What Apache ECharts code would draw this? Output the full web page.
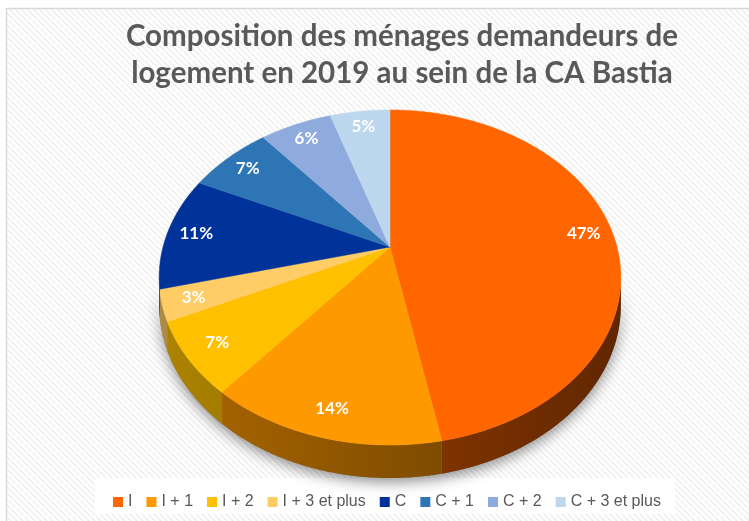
<!DOCTYPE html>
<html>
<head>
<meta charset="utf-8">
<script src="https://cdn.jsdelivr.net/npm/echarts@6/dist/echarts.min.js"></script>
<style>
  html, body { margin: 0; padding: 0; background: #fff; }
  #chart { width: 749px; height: 521px; }
</style>
</head>
<body>
<div id="chart"></div>
<script>
// données du graphique
const categories = ['I', 'I + 1', 'I + 2', 'I + 3 et plus', 'C', 'C + 1', 'C + 2', 'C + 3 et plus'];
const shares = [47, 14, 7, 3, 11, 7, 6, 5];
const colors = ['#FF6600', '#FF9900', '#FFC000', '#FFCC66', '#003399', '#2E75B6', '#8FAADC', '#BDD7EE'];
const titleLines = ['Composition des ménages demandeurs de', 'logement en 2019 au sein de la CA Bastia'];

// vue 3D simulée (ellipse en perspective)
const CX = 390, CY = 247;
const RX = 227, RY = 162, PERSP = 0.182, DEPTH = 27;
const LABEL_R = 0.87;
const total = shares.reduce((a, b) => a + b, 0);
// secteur visible de la tranche (face avant)
const FRONT_MIN = Math.acos(-PERSP), FRONT_MAX = 2 * Math.PI - Math.acos(-PERSP);

const project = (phi, r, drop) => {
  const u = Math.sin(phi) * r, v = -Math.cos(phi) * r;
  const k = 1 / (1 - PERSP * v);
  return [CX + RX * u * k, CY + RY * v * k + drop * k];
};

const arc = (a0, a1, r, drop) => {
  const pts = [];
  const n = Math.max(2, Math.ceil((a1 - a0) / 0.01));
  for (let j = 0; j <= n; j++) pts.push(project(a0 + (a1 - a0) * j / n, r, drop));
  return pts;
};

const shade = (hex, f) => {
  const n = parseInt(hex.slice(1), 16);
  const c = [(n >> 16) & 255, (n >> 8) & 255, n & 255].map((x) => Math.round(x * f));
  return 'rgb(' + c.join(',') + ')';
};

const angles = (i) => {
  let before = 0;
  for (let j = 0; j < i; j++) before += shares[j];
  return [2 * Math.PI * before / total, 2 * Math.PI * (before + shares[i]) / total];
};

const wallPoints = (a0, a1) => {
  const s = Math.max(a0, FRONT_MIN), e = Math.min(a1, FRONT_MAX);
  if (e <= s) return null;
  return arc(s, e, 1, 0).concat(arc(s, e, 1, DEPTH).reverse());
};

// motif de fond rayé
const stripe = document.createElement('canvas');
stripe.width = 6; stripe.height = 6;
const sctx = stripe.getContext('2d');
sctx.fillStyle = '#ffffff';
sctx.fillRect(0, 0, 6, 6);
sctx.strokeStyle = '#f0f0f0';
sctx.lineWidth = 1.6;
sctx.beginPath();
sctx.moveTo(-1, -1); sctx.lineTo(7, 7);
sctx.moveTo(-4, 2); sctx.lineTo(4, 10);
sctx.moveTo(2, -4); sctx.lineTo(10, 4);
sctx.stroke();

const sliceSeries = categories.map((name, i) => ({
  name: name,
  type: 'custom',
  coordinateSystem: 'none',
  silent: true,
  itemStyle: { color: colors[i] },
  data: [shares[i]],
  renderItem: (params, api) => {
    const [a0, a1] = angles(i);
    const children = [];
    const wall = wallPoints(a0, a1);
    if (wall) {
      children.push({
        type: 'polygon',
        shape: { points: wall },
        style: {
          fill: {
            type: 'linear', global: true,
            x: CX - RX, y: 0, x2: CX + RX, y2: 0,
            colorStops: [
              { offset: 0, color: shade(colors[i], 0.68) },
              { offset: 1, color: shade(colors[i], 0.38) },
            ],
          },
          stroke: null,
        },
      });
    }
    children.push({
      type: 'polygon',
      shape: { points: [[CX, CY]].concat(arc(a0, a1, 1, 0)) },
      style: { fill: colors[i], stroke: colors[i], lineWidth: 0.5 },
    });
    const mid = (a0 + a1) / 2;
    const p = project(mid, LABEL_R, 0);
    children.push({
      type: 'text',
      x: p[0], y: p[1],
      style: {
        text: Math.round(api.value(0) / total * 100) + '%',
        fill: '#fff',
        font: 'bold 17px Lato, "Open Sans", sans-serif',
        align: 'center',
        verticalAlign: 'middle',
      },
    });
    return { type: 'group', children: children };
  },
}));

// ombre portée sous la tranche avant
const shadowSeries = {
  type: 'custom',
  coordinateSystem: 'none',
  silent: true,
  z: 1,
  data: [total],
  renderItem: () => ({
    type: 'polygon',
    shape: { points: wallPoints(0, 2 * Math.PI) },
    style: {
      fill: '#888',
      shadowBlur: 14,
      shadowOffsetY: 4,
      shadowColor: 'rgba(0,0,0,0.45)',
    },
  }),
};

const chart = echarts.init(document.getElementById('chart'));
chart.setOption({
  animation: false,
  backgroundColor: '#fff',
  graphic: [
    {
      type: 'rect', z: -10,
      shape: { x: 6.5, y: 8.5, width: 780, height: 540 },
      style: { fill: { image: stripe, repeat: 'repeat' }, stroke: '#d9d9d9', lineWidth: 1.5 },
    },
    {
      type: 'rect', z: -9,
      shape: { x: 95, y: 478, width: 580, height: 36 },
      style: { fill: 'rgba(255,255,255,0.92)' },
    },
  ],
  title: {
    text: titleLines.join('\n'),
    left: 397,
    top: 13,
    textAlign: 'center',
    textStyle: {
      fontFamily: 'Lato, "Open Sans", sans-serif',
      fontSize: 29.5,
      fontWeight: 'bold',
      color: '#595959',
      lineHeight: 37,
    },
  },
  legend: {
    data: categories,
    left: 108,
    top: 489,
    width: 640,
    icon: 'rect',
    itemWidth: 10,
    itemHeight: 10,
    itemGap: 14,
    textStyle: {
      fontFamily: '"Liberation Sans", Arial, sans-serif',
      fontSize: 16,
      color: '#595959',
    },
  },
  series: [shadowSeries].concat(sliceSeries),
});
</script>
</body>
</html>
